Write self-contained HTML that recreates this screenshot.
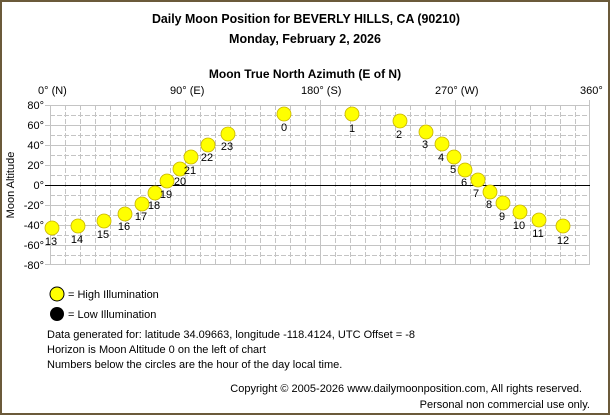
<!DOCTYPE html>
<html><head><meta charset="utf-8"><style>
html,body{margin:0;padding:0;background:#fff}
svg{display:block}
text{font-family:"Liberation Sans",sans-serif;fill:#000}
</style></head><body>
<svg width="610" height="415" viewBox="0 0 610 415" xmlns="http://www.w3.org/2000/svg">
<rect x="1" y="1" width="608" height="413" fill="#fff" stroke="#6b5a3a" stroke-width="2"/>
<text x="306" y="23" font-size="12.5" font-weight="bold" text-anchor="middle" textLength="308" lengthAdjust="spacingAndGlyphs">Daily Moon Position for BEVERLY HILLS, CA (90210)</text>
<text x="305" y="43" font-size="12.5" font-weight="bold" text-anchor="middle">Monday, February 2, 2026</text>
<text x="305" y="78" font-size="12" font-weight="bold" text-anchor="middle">Moon True North Azimuth (E of N)</text>
<g font-size="11">
<text x="38" y="94">0° (N)</text>
<text x="170" y="94">90° (E)</text>
<text x="301" y="94">180° (S)</text>
<text x="435" y="94">270° (W)</text>
<text x="580" y="94">360°</text>
</g>
<g id="grid" stroke="#c4c4c4" stroke-width="1">
<g stroke-dasharray="5,2">
<line x1="65.5" y1="105" x2="65.5" y2="265"/><line x1="80.5" y1="105" x2="80.5" y2="265"/><line x1="95.5" y1="105" x2="95.5" y2="265"/><line x1="110.5" y1="105" x2="110.5" y2="265"/><line x1="125.5" y1="105" x2="125.5" y2="265"/><line x1="140.5" y1="105" x2="140.5" y2="265"/><line x1="155.5" y1="105" x2="155.5" y2="265"/><line x1="170.5" y1="105" x2="170.5" y2="265"/><line x1="200.5" y1="105" x2="200.5" y2="265"/><line x1="215.5" y1="105" x2="215.5" y2="265"/><line x1="230.5" y1="105" x2="230.5" y2="265"/><line x1="245.5" y1="105" x2="245.5" y2="265"/><line x1="260.5" y1="105" x2="260.5" y2="265"/><line x1="275.5" y1="105" x2="275.5" y2="265"/><line x1="290.5" y1="105" x2="290.5" y2="265"/><line x1="305.5" y1="105" x2="305.5" y2="265"/><line x1="335.5" y1="105" x2="335.5" y2="265"/><line x1="350.5" y1="105" x2="350.5" y2="265"/><line x1="365.5" y1="105" x2="365.5" y2="265"/><line x1="380.5" y1="105" x2="380.5" y2="265"/><line x1="395.5" y1="105" x2="395.5" y2="265"/><line x1="410.5" y1="105" x2="410.5" y2="265"/><line x1="425.5" y1="105" x2="425.5" y2="265"/><line x1="440.5" y1="105" x2="440.5" y2="265"/><line x1="470.5" y1="105" x2="470.5" y2="265"/><line x1="485.5" y1="105" x2="485.5" y2="265"/><line x1="500.5" y1="105" x2="500.5" y2="265"/><line x1="515.5" y1="105" x2="515.5" y2="265"/><line x1="530.5" y1="105" x2="530.5" y2="265"/><line x1="545.5" y1="105" x2="545.5" y2="265"/><line x1="560.5" y1="105" x2="560.5" y2="265"/><line x1="575.5" y1="105" x2="575.5" y2="265"/>
<line x1="50" y1="115.5" x2="590" y2="115.5"/><line x1="50" y1="135.5" x2="590" y2="135.5"/><line x1="50" y1="155.5" x2="590" y2="155.5"/><line x1="50" y1="175.5" x2="590" y2="175.5"/><line x1="50" y1="195.5" x2="590" y2="195.5"/><line x1="50" y1="215.5" x2="590" y2="215.5"/><line x1="50" y1="235.5" x2="590" y2="235.5"/><line x1="50" y1="255.5" x2="590" y2="255.5"/>
</g>
<line x1="50.5" y1="105" x2="50.5" y2="265"/><line x1="185.5" y1="100" x2="185.5" y2="265"/><line x1="320.5" y1="100" x2="320.5" y2="265"/><line x1="455.5" y1="100" x2="455.5" y2="265"/><line x1="589.5" y1="100" x2="589.5" y2="265"/>
<line x1="45" y1="105.5" x2="590" y2="105.5"/><line x1="45" y1="125.5" x2="590" y2="125.5"/><line x1="45" y1="145.5" x2="590" y2="145.5"/><line x1="45" y1="165.5" x2="590" y2="165.5"/><line x1="45" y1="205.5" x2="590" y2="205.5"/><line x1="45" y1="225.5" x2="590" y2="225.5"/><line x1="45" y1="245.5" x2="590" y2="245.5"/><line x1="45" y1="264.5" x2="590" y2="264.5"/>
</g>
<line x1="45" y1="185.5" x2="590" y2="185.5" stroke="#000" stroke-width="1"/>
<g font-size="11" text-anchor="end">
<text x="44" y="109">80°</text><text x="44" y="129">60°</text><text x="44" y="149">40°</text><text x="44" y="169">20°</text><text x="44" y="189">0°</text><text x="44" y="209">-20°</text><text x="44" y="229">-40°</text><text x="44" y="249">-60°</text><text x="44" y="269">-80°</text>
</g>
<text x="14" y="185" font-size="11" text-anchor="middle" transform="rotate(-90 14 185)">Moon Altitude</text>
<g fill="#ffff00" stroke="#c8b400" stroke-width="0.8">
<circle cx="284" cy="114" r="7"/><circle cx="352" cy="114" r="7"/><circle cx="400" cy="121" r="7"/><circle cx="426" cy="132" r="7"/><circle cx="442" cy="144" r="7"/><circle cx="454" cy="157" r="7"/><circle cx="465" cy="170" r="7"/><circle cx="478" cy="180" r="7"/><circle cx="490" cy="192" r="7"/><circle cx="503" cy="203" r="7"/><circle cx="520" cy="212" r="7"/><circle cx="539" cy="220" r="7"/><circle cx="563" cy="226" r="7"/><circle cx="52" cy="228" r="7"/><circle cx="78" cy="226" r="7"/><circle cx="104" cy="221" r="7"/><circle cx="125" cy="214" r="7"/><circle cx="142" cy="204" r="7"/><circle cx="155" cy="193" r="7"/><circle cx="167" cy="181" r="7"/><circle cx="180" cy="169" r="7"/><circle cx="191" cy="157" r="7"/><circle cx="208" cy="145" r="7"/><circle cx="228" cy="134" r="7"/>
</g>
<g font-size="11" text-anchor="middle">
<text x="284" y="131">0</text><text x="352" y="132">1</text><text x="399" y="138">2</text><text x="425" y="148">3</text><text x="441" y="161">4</text><text x="453" y="173">5</text><text x="464" y="186">6</text><text x="476" y="197">7</text><text x="489" y="208">8</text><text x="502" y="220">9</text><text x="519" y="229">10</text><text x="538" y="237">11</text><text x="563" y="244">12</text><text x="51" y="245">13</text><text x="77" y="243">14</text><text x="103" y="238">15</text><text x="124" y="230">16</text><text x="141" y="220">17</text><text x="154" y="209">18</text><text x="166" y="198">19</text><text x="180" y="185">20</text><text x="190" y="174">21</text><text x="207" y="161">22</text><text x="227" y="150">23</text>
</g>
<circle cx="57" cy="294" r="7" fill="#ffff00" stroke="#000" stroke-width="1"/>
<text x="68" y="298" font-size="11">= High Illumination</text>
<circle cx="57" cy="314" r="7" fill="#000"/>
<text x="68" y="318" font-size="11">= Low Illumination</text>
<g font-size="11">
<text x="47" y="338">Data generated for: latitude 34.09663, longitude -118.4124, UTC Offset = -8</text>
<text x="47" y="353">Horizon is Moon Altitude 0 on the left of chart</text>
<text x="47" y="368">Numbers below the circles are the hour of the day local time.</text>
<text x="582" y="392" text-anchor="end">Copyright © 2005-2026 www.dailymoonposition.com, All rights reserved.</text>
<text x="590" y="408" text-anchor="end">Personal non commercial use only.</text>
</g>
</svg>
</body></html>
